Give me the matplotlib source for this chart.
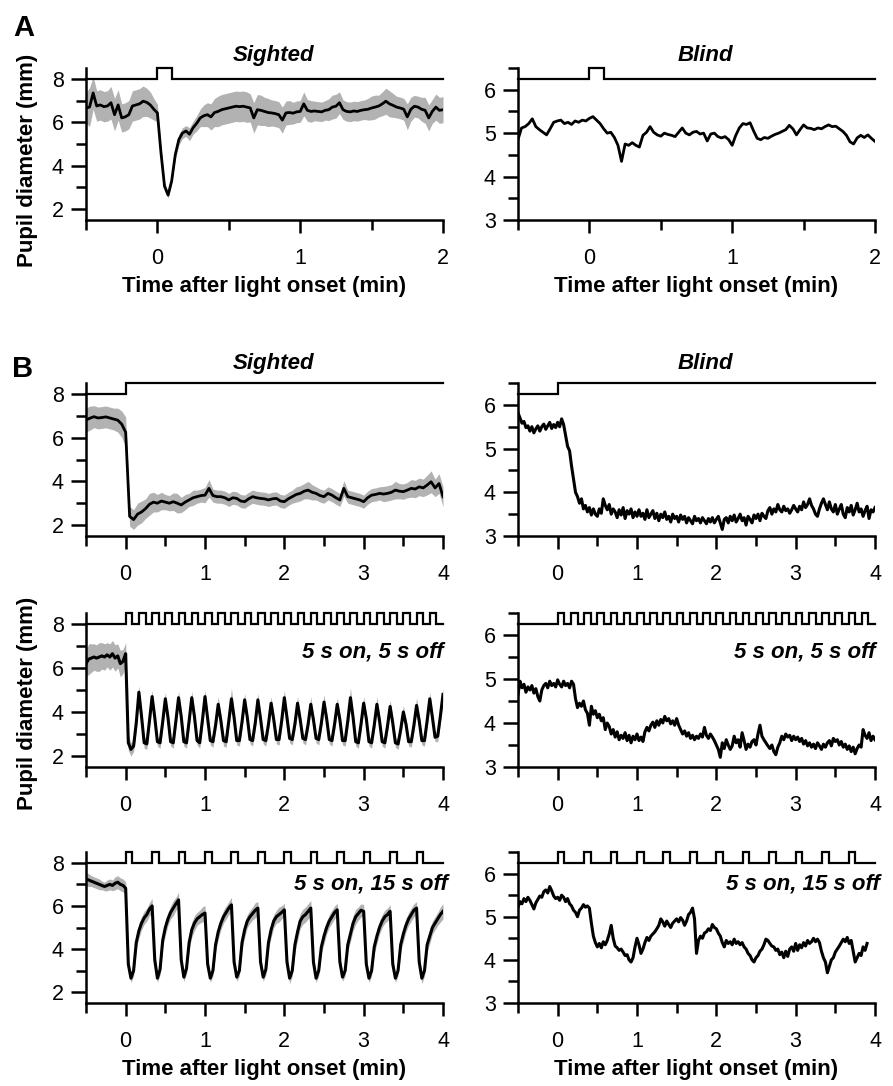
import numpy as np
import matplotlib
matplotlib.use("Agg")
import matplotlib.pyplot as plt
from matplotlib.ticker import MultipleLocator

plt.rcParams['font.family'] = ['Liberation Sans', 'DejaVu Sans']

# ---------------- data ----------------
# Panel A: single light pulse, samples every 0.025 min from -0.5 min
a_step = 0.025
a_sighted_mean = [6.66, 6.7, 7.35, 6.75, 6.8, 6.72, 6.75, 6.9, 6.35, 6.8, 6.2, 6.25, 6.35, 6.75, 6.8,
                  6.85, 6.97, 6.92, 6.8, 6.6, 6.43,
                  4.6, 3.05, 2.65, 3.3, 4.5, 5.2, 5.5, 5.6, 5.45, 5.75, 5.95, 6.2, 6.3, 6.35, 6.25,
                  6.45, 6.5, 6.58, 6.62, 6.66, 6.7, 6.74, 6.72, 6.74, 6.7, 6.66, 6.2, 6.58, 6.55, 6.5,
                  6.45, 6.43, 6.4, 6.35, 6.1, 6.43, 6.45, 6.42, 6.48, 6.5,
                  6.85, 6.55, 6.5, 6.52, 6.5, 6.48, 6.55, 6.58, 6.7, 6.74, 6.9, 6.58, 6.5, 6.48, 6.52,
                  6.5, 6.55, 6.58, 6.6, 6.66, 6.7, 6.75, 6.85, 6.97, 6.85, 6.78, 6.7, 6.66, 6.6, 6.25,
                  6.6, 6.74, 6.7, 6.6, 6.55, 6.2, 6.5, 6.7, 6.55, 6.58]
a_sighted_sd = [0.7, 0.9, 0.75, 0.7, 0.7, 0.7, 0.7, 0.75, 0.75, 0.7, 0.65, 0.65, 0.65, 0.7, 0.7,
                0.7, 0.7, 0.65, 0.6, 0.5, 0.4,
                0.3, 0.2, 0.15, 0.15, 0.2, 0.25, 0.25, 0.25, 0.3, 0.3, 0.35, 0.4, 0.5, 0.55, 0.6,
                0.65, 0.7, 0.7, 0.7, 0.7, 0.7, 0.7, 0.7, 0.7, 0.7, 0.65, 0.7, 0.7, 0.7, 0.65,
                0.65, 0.6, 0.6, 0.6, 0.6, 0.55, 0.55, 0.5, 0.5, 0.5,
                0.55, 0.5, 0.5, 0.45, 0.45, 0.45, 0.45, 0.5, 0.55, 0.55, 0.5, 0.45, 0.45, 0.45, 0.45,
                0.45, 0.45, 0.45, 0.5, 0.55, 0.55, 0.5, 0.55, 0.6, 0.6, 0.55, 0.5, 0.5, 0.5, 0.6,
                0.55, 0.5, 0.5, 0.55, 0.6, 0.6, 0.55, 0.6, 0.6, 0.6]
a_blind = [4.85, 5.12, 5.15, 5.22, 5.33, 5.15, 5.08, 5.02, 4.96, 5.1, 5.25, 5.28, 5.3, 5.22, 5.25,
           5.2, 5.28, 5.25, 5.3, 5.28, 5.34,
           5.38, 5.3, 5.22, 5.1, 5.0, 5.02, 4.9, 4.72, 4.35, 4.75, 4.72, 4.78, 4.72, 4.68, 4.95,
           5.02, 5.15, 5.02, 4.96, 4.93, 5.0, 4.97, 4.95, 4.92, 5.02, 5.12, 5.0, 4.96, 5.02, 5.04,
           4.98, 5.0, 4.82, 4.98, 5.0, 4.92, 4.89, 4.92, 4.85, 4.72,
           4.95, 5.12, 5.22, 5.2, 5.24, 5.05, 4.88, 4.85, 4.9, 4.88, 4.93, 4.97, 5.0, 5.04, 5.08,
           5.18, 5.1, 4.96, 5.08, 5.19, 5.12, 5.11, 5.08, 5.12, 5.1, 5.15, 5.19, 5.15, 5.16, 5.1,
           5.04, 4.95, 4.8, 4.75, 4.89, 4.95, 4.9, 4.96, 4.88, 4.81]
a_pulse_on_s = [0]
a_pulse_len_s = 6

# Panel B, steady light: sighted mean every 0.05 min, blind every 0.025 min, from -0.5 min
b_step = 0.05
blind_step = 0.025
b1_sighted_mean = [6.81, 6.89, 6.96, 6.9, 6.92, 6.95, 6.9, 6.85, 6.8, 6.62, 6.25,
                   2.4, 2.25, 2.5, 2.6, 2.75, 2.95, 3.05, 3.0, 3.1, 3.05,
                   3.0, 3.07, 3.0, 2.92, 3.05, 3.15, 3.25, 3.3, 3.35, 3.37,
                   3.68, 3.35, 3.3, 3.3, 3.25, 3.15, 3.25, 3.22, 3.1, 3.07,
                   3.2, 3.3, 3.25, 3.22, 3.2, 3.15, 3.2, 3.22, 3.1, 3.07,
                   3.2, 3.3, 3.4, 3.45, 3.55, 3.6, 3.5, 3.45, 3.35, 3.3,
                   3.45, 3.37, 3.25, 3.15, 3.68, 3.3, 3.25, 3.2, 3.15, 3.07,
                   3.25, 3.37, 3.4, 3.45, 3.42, 3.45, 3.5, 3.6, 3.55, 3.53,
                   3.6, 3.68, 3.65, 3.75, 3.7, 3.83, 3.98, 3.7, 3.9, 3.3]
b1_sighted_sd = [0.55, 0.55, 0.5, 0.5, 0.5, 0.5, 0.5, 0.5, 0.55, 0.6, 0.7,
                 0.45, 0.45, 0.5, 0.5, 0.45, 0.5, 0.45, 0.4, 0.4, 0.35,
                 0.35, 0.4, 0.45, 0.35, 0.35, 0.3, 0.35, 0.3, 0.3, 0.35,
                 0.4, 0.3, 0.3, 0.3, 0.3, 0.3, 0.3, 0.3, 0.3, 0.3,
                 0.3, 0.3, 0.3, 0.3, 0.3, 0.3, 0.3, 0.3, 0.3, 0.3,
                 0.3, 0.3, 0.35, 0.35, 0.35, 0.4, 0.35, 0.3, 0.3, 0.3,
                 0.3, 0.3, 0.3, 0.3, 0.35, 0.3, 0.3, 0.3, 0.3, 0.3,
                 0.3, 0.3, 0.3, 0.3, 0.35, 0.35, 0.35, 0.4, 0.35, 0.35,
                 0.35, 0.4, 0.4, 0.4, 0.4, 0.45, 0.5, 0.4, 0.45, 0.45]
b1_blind = [5.82, 5.7, 5.58, 5.62, 5.48, 5.52, 5.4, 5.5, 5.36, 5.45, 5.52, 5.4, 5.5, 5.56, 5.44,
            5.52, 5.6, 5.46, 5.55, 5.48, 5.6,
            5.5, 5.68, 5.55, 5.3, 5.05, 4.95, 4.6, 4.3, 4.0, 3.9, 3.75, 3.85, 3.62, 3.7, 3.55,
            3.65, 3.48, 3.62, 3.5, 3.45,
            3.62, 3.52, 3.85, 3.7, 3.6, 3.72, 3.5, 3.62, 3.55, 3.42, 3.6, 3.48, 3.65, 3.4, 3.58,
            3.5, 3.62, 3.42, 3.55, 3.45,
            3.6, 3.45, 3.52, 3.38, 3.6, 3.42, 3.5, 3.58, 3.4, 3.52, 3.35, 3.5, 3.42, 3.55, 3.38,
            3.45, 3.32, 3.5, 3.4, 3.45,
            3.32, 3.48, 3.38, 3.45, 3.3, 3.42, 3.35, 3.28, 3.45, 3.35, 3.4, 3.3, 3.42, 3.35, 3.28,
            3.4, 3.32, 3.42, 3.3, 3.38,
            3.45, 3.3, 3.15, 3.38, 3.42, 3.3, 3.45, 3.35, 3.48, 3.32, 3.4, 3.5, 3.35, 3.42, 3.25,
            3.45, 3.38, 3.3, 3.48, 3.4,
            3.5, 3.35, 3.52, 3.45, 3.4, 3.58, 3.65, 3.5, 3.62, 3.55, 3.72, 3.6, 3.55, 3.68, 3.58,
            3.62, 3.52, 3.6, 3.7, 3.62,
            3.55, 3.68, 3.6, 3.78, 3.65, 3.72, 3.85, 3.7, 3.62, 3.5, 3.45, 3.62, 3.75, 3.85, 3.72,
            3.6, 3.78, 3.62, 3.55, 3.72,
            3.5, 3.62, 3.72, 3.5, 3.42, 3.65, 3.55, 3.7, 3.48, 3.6, 3.75, 3.55, 3.62, 3.45, 3.58,
            3.68, 3.4, 3.6, 3.55, 3.65]
b1_light_on_s = [0]
b1_light_len_s = 300

# Panel B, 5 s on / 5 s off: sighted mean sampled every 2 s from -30 s
pulse_step_s = 2
b2_sighted_mean = [6.2, 6.4, 6.45, 6.5, 6.45, 6.5, 6.55, 6.5, 6.6, 6.5, 6.65, 6.45, 6.55, 6.2, 6.3, 6.65,
                   2.6, 2.3, 2.45, 3.5, 4.9,
                   3.8, 2.6, 2.55, 3.6, 4.7,
                   3.75, 2.65, 2.6, 3.55, 4.6,
                   3.75, 2.65, 2.6, 3.6, 4.65,
                   3.8, 2.65, 2.6, 3.6, 4.65,
                   3.8, 2.7, 2.6, 3.6, 4.7,
                   3.7, 2.7, 2.65, 3.4, 4.35,
                   3.6, 2.7, 2.65, 3.6, 4.6,
                   3.75, 2.7, 2.7, 3.55, 4.55,
                   3.75, 2.75, 2.7, 3.5, 4.55,
                   3.7, 2.75, 2.7, 3.45, 4.4,
                   3.65, 2.75, 2.75, 3.6, 4.65,
                   3.75, 2.8, 2.75, 3.45, 4.4,
                   3.65, 2.8, 2.75, 3.45, 4.35,
                   3.65, 2.8, 2.75, 3.5, 4.45,
                   3.7, 2.75, 2.7, 3.45, 4.35,
                   3.65, 2.7, 2.7, 3.6, 4.65,
                   3.75, 2.65, 2.6, 3.45, 4.4,
                   3.7, 2.65, 2.6, 3.4, 4.35,
                   3.6, 2.65, 2.6, 3.35, 4.25,
                   3.5, 2.6, 2.55, 3.2, 4.0,
                   3.45, 2.65, 2.65, 3.4, 4.3,
                   3.6, 2.7, 2.7, 3.6, 4.6,
                   3.75, 2.85, 2.9, 3.8, 4.8]
b2_sighted_sd = [0.6, 0.7, 0.65, 0.6, 0.6, 0.65, 0.6, 0.6, 0.55, 0.6, 0.6, 0.6, 0.55, 0.6, 0.55, 0.5,
                 0.35, 0.3, 0.25, 0.3, 0.3,
                 0.3, 0.25, 0.25, 0.3, 0.3,
                 0.25, 0.2, 0.25, 0.3, 0.3,
                 0.25, 0.2, 0.25, 0.3, 0.3,
                 0.25, 0.2, 0.25, 0.3, 0.3,
                 0.25, 0.2, 0.25, 0.3, 0.3,
                 0.25, 0.2, 0.25, 0.3, 0.35,
                 0.3, 0.25, 0.25, 0.35, 0.5,
                 0.25, 0.2, 0.25, 0.3, 0.3,
                 0.25, 0.2, 0.25, 0.3, 0.3,
                 0.25, 0.2, 0.25, 0.3, 0.3,
                 0.25, 0.2, 0.25, 0.3, 0.35,
                 0.25, 0.2, 0.25, 0.3, 0.3,
                 0.25, 0.2, 0.25, 0.3, 0.35,
                 0.25, 0.2, 0.25, 0.3, 0.35,
                 0.25, 0.2, 0.25, 0.3, 0.3,
                 0.25, 0.2, 0.25, 0.35, 0.45,
                 0.25, 0.2, 0.25, 0.3, 0.3,
                 0.25, 0.2, 0.25, 0.3, 0.35,
                 0.25, 0.2, 0.25, 0.3, 0.3,
                 0.25, 0.2, 0.25, 0.3, 0.3,
                 0.25, 0.2, 0.25, 0.3, 0.35,
                 0.25, 0.2, 0.25, 0.3, 0.3,
                 0.25, 0.2, 0.25, 0.3, 0.3]
b2_blind = [4.65, 4.95, 4.8, 4.88, 4.7, 4.82, 4.75, 4.85, 4.68, 4.78, 4.6, 4.5, 4.75, 4.85, 4.9,
            4.8, 4.95, 4.85, 4.9, 4.82, 4.98,
            4.88, 4.82, 4.95, 4.85, 4.9, 4.8, 4.95, 4.88, 4.55, 4.35, 4.45, 4.38, 4.5, 4.3, 4.22,
            3.95, 4.38, 4.2, 4.28, 4.12,
            4.2, 4.05, 4.12, 3.85, 4.0, 3.92, 3.75, 3.85, 3.68, 3.8, 3.62, 3.72, 3.65, 3.78, 3.6,
            3.72, 3.55, 3.7, 3.62, 3.75,
            3.6, 3.68, 3.58, 3.8, 3.9, 3.82, 3.95, 4.02, 3.9, 4.05, 3.95, 4.08, 4.0, 4.15, 4.05,
            4.1, 3.98, 4.05, 3.95, 4.1,
            3.95, 3.85, 3.75, 3.82, 3.7, 3.78, 3.65, 3.72, 3.62, 3.7, 3.65, 3.75, 3.68, 3.9, 3.72,
            3.65, 3.75, 3.68, 3.6, 3.5,
            3.4, 3.22, 3.55, 3.42, 3.62, 3.5, 3.4, 3.48, 3.7, 3.55, 3.62, 3.45, 3.78, 3.6, 3.4,
            3.52, 3.45, 3.58, 3.62, 3.5,
            3.75, 3.95, 3.7, 3.62, 3.55, 3.48, 3.42, 3.5, 3.35, 3.28, 3.45, 3.55, 3.7, 3.62, 3.75,
            3.68, 3.72, 3.6, 3.7, 3.62,
            3.68, 3.58, 3.65, 3.52, 3.6, 3.48, 3.55, 3.45, 3.52, 3.42, 3.55, 3.48, 3.4, 3.52, 3.45,
            3.55, 3.6, 3.48, 3.65, 3.58,
            3.62, 3.5, 3.58, 3.45, 3.52, 3.4, 3.48, 3.35, 3.45, 3.3, 3.42, 3.5, 3.45, 3.85, 3.72,
            3.65, 3.78, 3.6, 3.7, 3.62]
b2_pulse_on_s = [0, 10, 20, 30, 40, 50, 60, 70, 80, 90, 100, 110,
                 120, 130, 140, 150, 160, 170, 180, 190, 200, 210, 220, 230]

# Panel B, 5 s on / 15 s off
b3_sighted_mean = [7.25, 7.2, 7.15, 7.1, 7.05, 7.0, 6.95, 6.9, 6.95, 7.0, 6.95, 7.05, 7.1, 7.0, 6.95, 6.82,
                   3.3, 2.65, 3.0, 4.3, 4.85, 5.2, 5.45, 5.6, 5.85, 6.0,
                   3.5, 2.65, 3.05, 4.4, 5.0, 5.4, 5.7, 5.9, 6.1, 6.28,
                   3.5, 2.7, 3.1, 4.3, 4.9, 5.2, 5.4, 5.5, 5.6, 5.67,
                   3.3, 2.65, 3.0, 4.2, 4.8, 5.2, 5.5, 5.7, 5.9, 6.05,
                   3.4, 2.7, 3.0, 4.3, 4.9, 5.3, 5.5, 5.65, 5.8, 5.9,
                   3.4, 2.7, 3.05, 4.3, 4.9, 5.3, 5.5, 5.6, 5.7, 5.82,
                   3.4, 2.65, 3.0, 4.2, 4.8, 5.3, 5.5, 5.6, 5.75, 5.9,
                   3.4, 2.65, 3.0, 4.1, 4.6, 5.0, 5.3, 5.5, 5.7, 5.82,
                   3.4, 2.7, 3.0, 4.2, 4.7, 5.2, 5.5, 5.65, 5.8, 5.75,
                   3.3, 2.65, 3.0, 4.1, 4.6, 5.0, 5.3, 5.5, 5.6, 5.75,
                   3.3, 2.65, 3.0, 4.2, 4.7, 5.1, 5.4, 5.6, 5.8, 5.9,
                   3.4, 2.65, 3.0, 4.2, 4.6, 5.0, 5.2, 5.4, 5.6, 5.75]
b3_sighted_sd = [0.3, 0.3, 0.25, 0.25, 0.25, 0.25, 0.2, 0.2, 0.25, 0.25, 0.25, 0.3, 0.3, 0.3, 0.3, 0.3,
                 0.3, 0.2, 0.25, 0.3, 0.35, 0.3, 0.3, 0.3, 0.3, 0.35,
                 0.3, 0.2, 0.25, 0.3, 0.35, 0.3, 0.3, 0.35, 0.3, 0.35,
                 0.3, 0.2, 0.25, 0.3, 0.35, 0.35, 0.3, 0.3, 0.35, 0.35,
                 0.3, 0.2, 0.25, 0.3, 0.35, 0.3, 0.3, 0.3, 0.3, 0.35,
                 0.3, 0.2, 0.25, 0.3, 0.35, 0.3, 0.3, 0.3, 0.35, 0.3,
                 0.3, 0.2, 0.25, 0.3, 0.35, 0.3, 0.3, 0.35, 0.3, 0.3,
                 0.3, 0.25, 0.25, 0.35, 0.4, 0.35, 0.35, 0.35, 0.35, 0.35,
                 0.3, 0.2, 0.25, 0.3, 0.35, 0.3, 0.3, 0.3, 0.3, 0.3,
                 0.3, 0.2, 0.25, 0.3, 0.35, 0.35, 0.35, 0.3, 0.3, 0.3,
                 0.3, 0.2, 0.25, 0.3, 0.35, 0.3, 0.3, 0.3, 0.3, 0.3,
                 0.3, 0.2, 0.25, 0.3, 0.35, 0.3, 0.3, 0.3, 0.3, 0.3,
                 0.3, 0.25, 0.25, 0.3, 0.35, 0.3, 0.3, 0.3, 0.35, 0.35]
b3_blind = [5.22, 5.35, 5.3, 5.42, 5.35, 5.45, 5.38, 5.28, 5.18, 5.32, 5.4, 5.48, 5.45, 5.58, 5.62,
            5.55, 5.7, 5.6, 5.48, 5.42, 5.45,
            5.38, 5.5, 5.45, 5.35, 5.42, 5.3, 5.25, 5.15, 5.1, 5.0, 5.15, 5.2, 5.28, 5.22, 5.25,
            5.2, 4.85, 4.55, 4.4, 4.3,
            4.38, 4.28, 4.42, 4.35, 4.45, 4.6, 4.8, 4.5, 4.32, 4.28, 4.22, 4.25, 4.18, 4.1, 4.12,
            4.0, 3.95, 4.05, 4.3, 4.5,
            4.35, 4.15, 4.25, 4.4, 4.52, 4.45, 4.55, 4.6, 4.65, 4.72, 4.8, 4.95, 4.88, 4.78, 4.9,
            4.82, 4.75, 4.85, 4.9, 4.95,
            4.88, 4.98, 4.92, 4.8, 4.9, 5.05, 5.1, 5.2, 4.95, 4.15, 4.45, 4.55, 4.5, 4.62, 4.65,
            4.72, 4.68, 4.82, 4.75, 4.72,
            4.62, 4.55, 4.4, 4.3, 4.45, 4.38, 4.42, 4.35, 4.48, 4.38, 4.42, 4.35, 4.4, 4.3, 4.25,
            4.15, 4.1, 4.0, 3.95, 4.05,
            4.1, 4.2, 4.25, 4.35, 4.48, 4.45, 4.38, 4.32, 4.3, 4.22, 4.25, 4.12, 4.18, 4.05, 4.2,
            4.08, 4.25, 4.3, 4.2, 4.38,
            4.22, 4.35, 4.28, 4.4, 4.32, 4.45, 4.38, 4.42, 4.5, 4.42, 4.48, 4.4, 4.2, 4.05, 3.95,
            3.7, 3.85, 4.0, 4.05, 4.18,
            4.25, 4.32, 4.4, 4.48, 4.42, 4.52, 4.38, 4.45, 4.2, 3.95, 4.05, 4.15, 4.1, 4.3, 4.22,
            4.38]
b3_pulse_on_s = [0, 20, 40, 60, 80, 100, 120, 140, 160, 180, 200, 220]
pulse_len_s = 5

xlabel_txt = 'Time after light onset (min)'
ylabel_txt = 'Pupil diameter (mm)'
# --------------------------------------------------------------

W, H = 893, 1086
fig = plt.figure(figsize=(W / 100, H / 100), dpi=100)

def rect(left_px, top_px, right_px, bottom_px):
    return [left_px / W, 1 - bottom_px / H, (right_px - left_px) / W, (bottom_px - top_px) / H]

GREY = '#b2b2b2'
FS_TICK = 15.5
FS_LAB = 16

def style(ax, xmax, sighted):
    for s in ['top', 'right']:
        ax.spines[s].set_visible(False)
    for s in ['left', 'bottom']:
        ax.spines[s].set_linewidth(1.8)
    ax.set_xlim(-0.5, xmax)
    ax.set_xticks(range(0, int(xmax) + 1))
    ax.xaxis.set_minor_locator(MultipleLocator(0.5))
    if sighted:
        ax.set_ylim(1.5, 8.5)
        ax.set_yticks([2, 4, 6, 8])
        ax.yaxis.set_minor_locator(MultipleLocator(1))
    else:
        ax.set_ylim(3, 6.5)
        ax.set_yticks([3, 4, 5, 6])
        ax.yaxis.set_minor_locator(MultipleLocator(0.5))
    ax.tick_params(which='both', direction='out', width=1.8, labelsize=FS_TICK, colors='black')
    ax.tick_params(axis='x', which='major', length=9, pad=11)
    ax.tick_params(axis='x', which='minor', length=7)
    ax.tick_params(axis='y', which='major', length=11, pad=5)
    ax.tick_params(axis='y', which='minor', length=7)

def stimulus(ax, onsets_s, len_s, xmax, lo, hi):
    xs, ys = [-0.5], [lo]
    for t in onsets_s:
        a = t / 60.0
        b = (t + len_s) / 60.0
        if b >= xmax:
            xs += [a, a, xmax]
            ys += [lo, hi, hi]
        else:
            xs += [a, a, b, b]
            ys += [lo, hi, hi, lo]
    if xs[-1] < xmax:
        xs.append(xmax)
        ys.append(lo)
    ax.plot(xs, ys, color='black', lw=1.6, clip_on=False, solid_joinstyle='miter')

def trace(ax, t0, step, mean, sd=None, lw=2.0):
    mean = np.asarray(mean)
    t = t0 + step * np.arange(len(mean))
    if sd is not None:
        sd = np.asarray(sd)
        ax.fill_between(t, mean - sd, mean + sd, color=GREY, lw=0)
    ax.plot(t, mean, color='black', lw=lw, solid_joinstyle='round')

def header(ax, txt, y):
    ax.text(0.524, y, txt, transform=ax.transAxes, ha='center', va='center',
            fontsize=FS_LAB, fontweight='bold', fontstyle='italic')

def protocol(ax, txt, x, y):
    ax.text(x, y, txt, transform=ax.transAxes, ha='right', va='center',
            fontsize=FS_LAB, fontweight='bold', fontstyle='italic')

def xlab(ax):
    ax.set_xlabel(xlabel_txt, fontsize=FS_LAB, fontweight='bold', labelpad=5)

def ylab(center_px):
    fig.text(28 / W, 1 - center_px / H, ylabel_txt, rotation=90, ha='center', va='center',
             fontsize=FS_LAB, fontweight='bold')

L0, L1 = 86, 443
R0, R1 = 518, 875

# ---- A ----
ax = fig.add_axes(rect(L0, 68, L1, 220))
style(ax, 2, True)
trace(ax, -0.5, a_step, a_sighted_mean, a_sighted_sd)
stimulus(ax, a_pulse_on_s, a_pulse_len_s, 2, 8, 8.5)
header(ax, 'Sighted', 1.08)
xlab(ax)
ylab(160)

ax = fig.add_axes(rect(R0, 68, R1, 220))
style(ax, 2, False)
trace(ax, -0.5, a_step, a_blind)
stimulus(ax, a_pulse_on_s, a_pulse_len_s, 2, 6.25, 6.5)
header(ax, 'Blind', 1.08)
xlab(ax)

# ---- B, steady light ----
ax = fig.add_axes(rect(L0, 383, L1, 536))
style(ax, 4, True)
trace(ax, -0.5, b_step, b1_sighted_mean, b1_sighted_sd)
stimulus(ax, b1_light_on_s, b1_light_len_s, 4, 8, 8.5)
header(ax, 'Sighted', 1.13)

ax = fig.add_axes(rect(R0, 383, R1, 536))
style(ax, 4, False)
trace(ax, -0.5, blind_step, b1_blind, lw=2.2)
stimulus(ax, b1_light_on_s, b1_light_len_s, 4, 6.25, 6.5)
header(ax, 'Blind', 1.13)

# ---- B, 5 s on / 5 s off ----
ax = fig.add_axes(rect(L0, 613, L1, 767))
style(ax, 4, True)
trace(ax, -0.5, pulse_step_s / 60.0, b2_sighted_mean, b2_sighted_sd, lw=2.2)
stimulus(ax, b2_pulse_on_s, pulse_len_s, 4, 8, 8.5)
protocol(ax, '5 s on, 5 s off', 1.0, 0.747)
ylab(703)

ax = fig.add_axes(rect(R0, 613, R1, 767))
style(ax, 4, False)
trace(ax, -0.5, blind_step, b2_blind, lw=2.2)
stimulus(ax, b2_pulse_on_s, pulse_len_s, 4, 6.25, 6.5)
protocol(ax, '5 s on, 5 s off', 1.0, 0.747)

# ---- B, 5 s on / 15 s off ----
ax = fig.add_axes(rect(L0, 852, L1, 1003))
style(ax, 4, True)
trace(ax, -0.5, pulse_step_s / 60.0, b3_sighted_mean, b3_sighted_sd, lw=2.2)
stimulus(ax, b3_pulse_on_s, pulse_len_s, 4, 8, 8.5)
protocol(ax, '5 s on, 15 s off', 1.015, 0.79)
xlab(ax)

ax = fig.add_axes(rect(R0, 852, R1, 1003))
style(ax, 4, False)
trace(ax, -0.5, blind_step, b3_blind, lw=2.2)
stimulus(ax, b3_pulse_on_s, pulse_len_s, 4, 6.25, 6.5)
protocol(ax, '5 s on, 15 s off', 1.015, 0.79)
xlab(ax)

fig.text(13 / W, 1 - 28 / H, 'A', fontsize=21, fontweight='bold', va='center', ha='left')
fig.text(12 / W, 1 - 369 / H, 'B', fontsize=21, fontweight='bold', va='center', ha='left')

fig.savefig('out.png', dpi=100)
